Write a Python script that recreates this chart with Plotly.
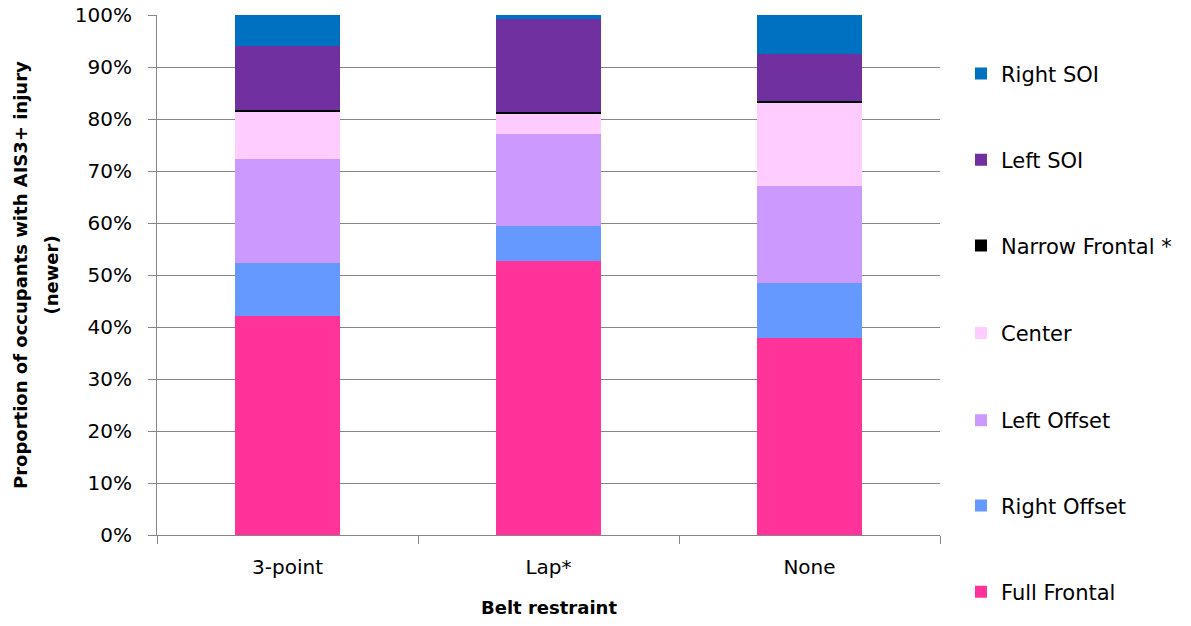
import plotly.graph_objects as go

categories = ["3-point", "Lap*", "None"]
series_names = ["Full Frontal", "Right Offset", "Left Offset", "Center", "Narrow Frontal *", "Left SOI", "Right SOI"]
full_frontal = [42.2, 52.6, 37.9]
right_offset = [10.2, 6.9, 10.6]
left_offset = [20.0, 17.6, 18.7]
center = [8.9, 3.9, 15.8]
narrow_frontal = [0.4, 0.3, 0.5]
left_soi = [12.3, 17.9, 9.0]
right_soi = [6.0, 0.8, 7.5]
tick_vals = [0, 10, 20, 30, 40, 50, 60, 70, 80, 90, 100]
tick_text = [f"{v}%" for v in tick_vals]

colors = ["#FF3399", "#6699FF", "#CC99FF", "#FFCCFF", "#000000", "#7030A0", "#0070C0"]
values = [full_frontal, right_offset, left_offset, center, narrow_frontal, left_soi, right_soi]
# legend text centre positions (paper y), bottom item first
legend_y = [-0.11, 0.056, 0.22, 0.388, 0.556, 0.721, 0.887]

FONT = "DejaVu Sans, sans-serif"

fig = go.Figure()
layout_legends = {}
for i, (name, vals, col) in enumerate(zip(series_names, values, colors)):
    key = "legend" if i == 0 else f"legend{i+1}"
    fig.add_trace(go.Bar(
        x=categories, y=vals, name=name, legend=key,
        marker=dict(color=col, line=dict(width=0)),
    ))
    layout_legends[key] = dict(
        x=1.0268, y=legend_y[i], xanchor="left", yanchor="middle",
        font=dict(family=FONT, size=21, color="black"),
        bgcolor="rgba(0,0,0,0)", itemwidth=30,
    )

fig.update_layout(
    barmode="stack",
    bargap=0.6,
    width=1191, height=626,
    margin=dict(l=157, r=251, t=15, b=91, autoexpand=False),
    plot_bgcolor="white", paper_bgcolor="white",
    font=dict(family=FONT, size=20, color="black"),
    showlegend=True,
    **layout_legends,
    xaxis=dict(
        showline=True, linecolor="#868686", linewidth=1,
        ticks="outside", tickson="boundaries", ticklen=8, tickcolor="#868686",
        ticklabelstandoff=14,
        tickfont=dict(family=FONT, size=20),
        showgrid=False,
    ),
    yaxis=dict(
        range=[0, 100], tickvals=tick_vals, ticktext=tick_text,
        showline=True, linecolor="#868686", linewidth=1,
        ticks="outside", ticklen=8, tickcolor="#868686",
        ticklabelstandoff=12, ticklabeloverflow="allow",
        tickfont=dict(family=FONT, size=20),
        showgrid=True, gridcolor="#868686", gridwidth=1,
        zeroline=False,
    ),
    annotations=[
        dict(text="<b>Belt restraint</b>", xref="paper", yref="paper",
             x=0.5, y=-0.1385, xanchor="center", yanchor="middle", showarrow=False,
             font=dict(family=FONT, size=18, color="black")),
        dict(text="<b>Proportion of occupants with AIS3+ injury</b>", xref="paper", yref="paper",
             x=-0.175, y=0.5, xanchor="center", yanchor="middle", showarrow=False, textangle=-90,
             font=dict(family=FONT, size=18, color="black")),
        dict(text="<b>(newer)</b>", xref="paper", yref="paper",
             x=-0.136, y=0.5, xanchor="center", yanchor="middle", showarrow=False, textangle=-90,
             font=dict(family=FONT, size=18, color="black")),
    ],
)

fig.write_html("out.html", config={"displayModeBar": False},
               post_script="document.body.style.margin='0';")
